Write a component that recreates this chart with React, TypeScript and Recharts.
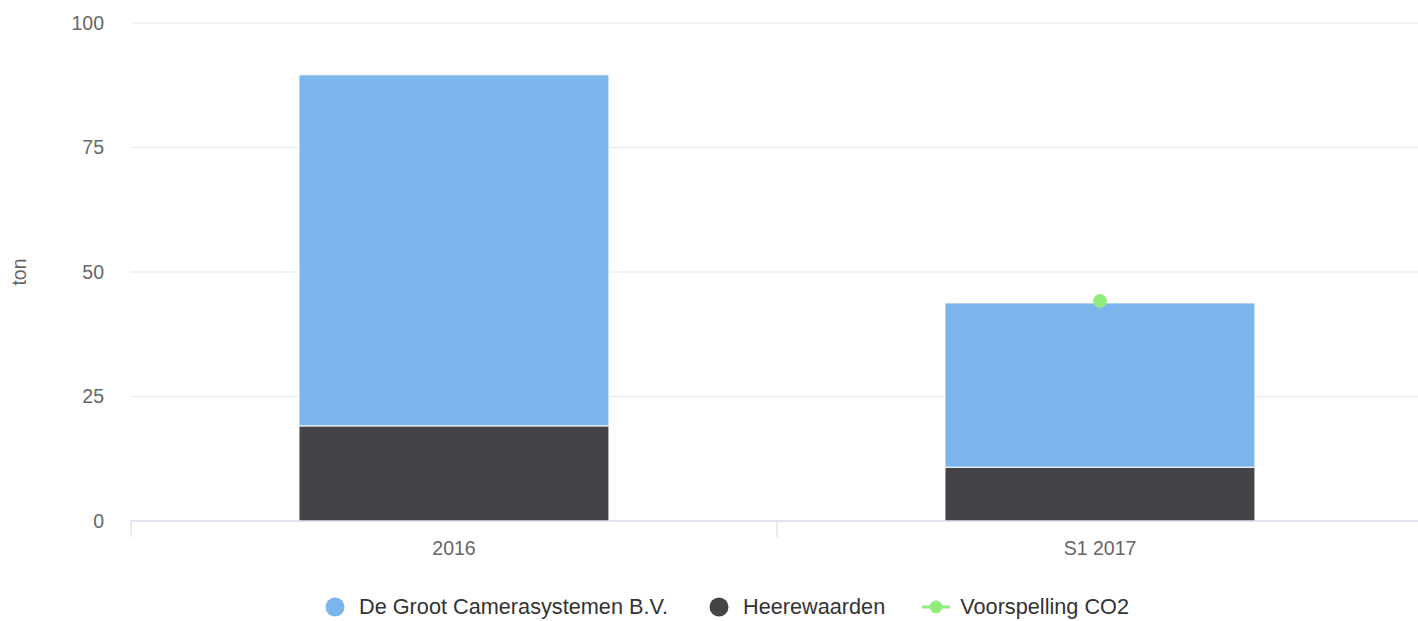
import { ComposedChart, Bar, Line, XAxis, YAxis, CartesianGrid, Legend } from "recharts";

const categories = ["2016", "S1 2017"];
const heerewaarden = [19.1, 10.8];
const deGroot = [70.5, 33.0];
const voorspelling: (number | null)[] = [null, 44.2];
const yTicks = [0, 25, 50, 75, 100];

const BLUE = "#7cb5ec";
const DARK = "#434348";
const GREEN = "#90ed7d";
const FONT = "'Liberation Sans', Arial, Helvetica, sans-serif";

const data = categories.map((name, i) => ({
  name,
  heerewaarden: heerewaarden[i],
  deGroot: deGroot[i],
  voorspelling: voorspelling[i],
}));

const legendItems = [
  { label: "De Groot Camerasystemen B.V.", color: BLUE, kind: "dot" },
  { label: "Heerewaarden", color: DARK, kind: "dot" },
  { label: "Voorspelling CO2", color: GREEN, kind: "line" },
];

function XTick(props: any) {
  const { x, y, payload } = props;
  const half = payload?.offset ?? 0;
  return (
    <g>
      <line x1={x - half} x2={x - half} y1={y - 8} y2={y + 8} stroke="#ccd6eb" strokeWidth={1} />
      <text x={x} y={y + 26} textAnchor="middle" fill="#666666" fontSize={19.5} fontFamily={FONT}>
        {payload.value}
      </text>
    </g>
  );
}

function LegendContent() {
  return (
    <div style={{ display: "flex", justifyContent: "center", alignItems: "center", fontFamily: FONT, fontSize: 21.7, color: "#333333", lineHeight: "26px" }}>
      {legendItems.map((it, i) => (
        <div key={it.label} style={{ display: "flex", alignItems: "center", marginLeft: i === 0 ? 0 : 37 }}>
          <svg width={28} height={22} style={{ marginRight: 10 }}>
            {it.kind === "dot" ? (
              <circle cx={14} cy={11} r={9.5} fill={it.color} />
            ) : (
              <>
                <line x1={0} x2={28} y1={11} y2={11} stroke={it.color} strokeWidth={3} />
                <circle cx={14} cy={11} r={6.5} fill={it.color} />
              </>
            )}
          </svg>
          <span>{it.label}</span>
        </div>
      ))}
    </div>
  );
}

export default function App() {
  return (
    <div style={{ position: "absolute", left: 0, top: 0, background: "#fff" }}>
      <ComposedChart
        width={1418}
        height={621}
        data={data}
        margin={{ top: 23, right: -5, bottom: 70, left: 0 }}
        barCategoryGap="26%"
      >
        <CartesianGrid vertical={false} stroke="#e6e6e6" />
        <XAxis
          dataKey="name"
          height={30}
          tickLine={false}
          axisLine={{ stroke: "#ccd6eb" }}
          tick={<XTick />}
          interval={0}
        />
        <YAxis
          width={131}
          domain={[0, 100]}
          ticks={yTicks}
          tickLine={false}
          axisLine={false}
          tickMargin={21}
          tick={{ fill: "#666666", fontSize: 19.5, fontFamily: FONT }}
          label={{
            content: (p: any) => {
              const vb = p.viewBox;
              const cy = vb.y + vb.height / 2;
              return (
                <text x={26} y={cy} transform={`rotate(-90 26 ${cy})`} textAnchor="middle" fill="#666666" fontSize={19.5} fontFamily={FONT}>
                  ton
                </text>
              );
            },
          }}
        />
        <Bar dataKey="heerewaarden" name="Heerewaarden" stackId="a" fill={DARK} stroke="#ffffff" strokeWidth={1} isAnimationActive={false} />
        <Bar dataKey="deGroot" name="De Groot Camerasystemen B.V." stackId="a" fill={BLUE} stroke="#ffffff" strokeWidth={1} isAnimationActive={false} />
        <Line
          dataKey="voorspelling"
          name="Voorspelling CO2"
          stroke={GREEN}
          strokeWidth={3}
          dot={{ r: 7, fill: GREEN, stroke: "none" }}
          isAnimationActive={false}
        />
        <Legend
          verticalAlign="middle"
          align="center"
          content={<LegendContent />}
          wrapperStyle={{ top: 594, left: 16, width: 1418 }}
        />
      </ComposedChart>
    </div>
  );
}
